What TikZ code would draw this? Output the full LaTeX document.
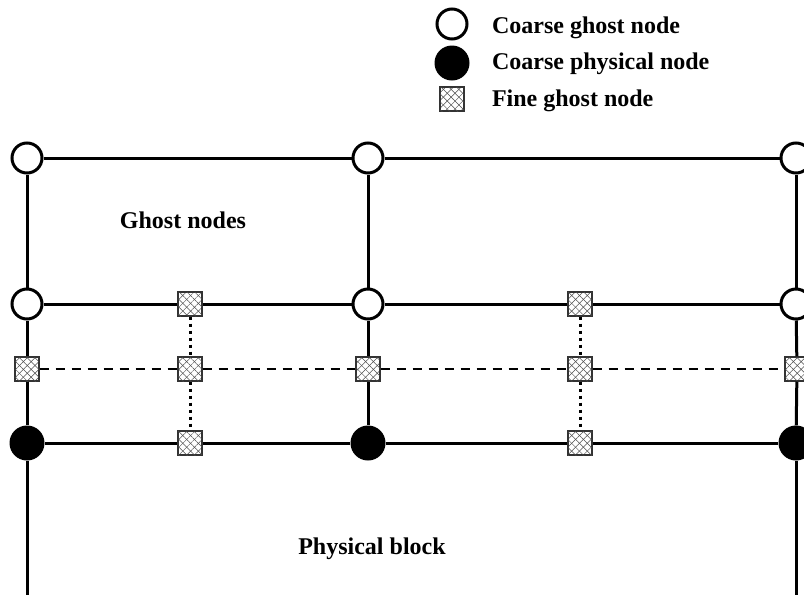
\documentclass[tikz,border=0pt]{standalone}
\usepackage{fontspec}
\setmainfont{Liberation Serif}
\usetikzlibrary{patterns.meta}
\begin{document}
\begin{tikzpicture}[x=1pt,y=-1pt,
  ghost/.style={circle,draw=black,fill=white,line width=3pt,minimum size=30pt,inner sep=0pt},
  phys/.style={circle,fill=black,draw=none,minimum size=35pt,inner sep=0pt},
  fine/.style={rectangle,draw=black!80,line width=1.2pt,fill=white,minimum size=24pt,inner sep=0pt,
    pattern={Lines[angle=45,distance=5.5pt,line width=0.5pt]},pattern color=black!70,
    postaction={pattern={Lines[angle=-45,distance=5.5pt,line width=0.5pt]},pattern color=black!70}},
  grid/.style={line width=3pt},
  dashline/.style={line width=2.6pt,dash pattern=on 9pt off 7pt},
  dotline/.style={line width=3pt,dash pattern=on 3.5pt off 3.5pt},
  lbl/.style={font=\fontsize{24}{28}\selectfont\bfseries}
]
\useasboundingbox (0,0) rectangle (804,595);
% legend
\node[ghost] (lg1) at (452,24) {};
\node[phys] (lg2) at (452,63) {};
\node[fine] (lg3) at (452,99) {};
\node[lbl,anchor=base west] (lt1) at (488.5,33) {Coarse ghost node};
\node[lbl,anchor=base west] (lt2) at (488.5,69.5) {Coarse physical node};
\node[lbl,anchor=base west] (lt3) at (488.5,106) {Fine ghost node};
% coarse nodes
\node[ghost] (g11) at (27,158) {};
\node[ghost] (g12) at (368,158) {};
\node[ghost] (g13) at (796,158) {};
\node[ghost] (g21) at (27,304) {};
\node[ghost] (g22) at (368,304) {};
\node[ghost] (g23) at (796,304) {};
\node[phys] (p1) at (27,443) {};
\node[phys] (p2) at (368,443) {};
\node[phys] (p3) at (796,443) {};
% fine nodes
\node[fine] (fa1) at (190,304) {};
\node[fine] (fa2) at (190,369) {};
\node[fine] (fa3) at (190,443) {};
\node[fine] (fb1) at (580,304) {};
\node[fine] (fb2) at (580,369) {};
\node[fine] (fb3) at (580,443) {};
\node[fine] (fl) at (27,369) {};
\node[fine] (fm) at (368,369) {};
\node[fine] (fr) at (797,369) {};
\coordinate (bl) at (27,595);
\coordinate (br) at (796,595);
% lines
\draw[grid] (g11) -- (g12);
\draw[grid] (g12) -- (g13);
\draw[grid] (g21) -- (fa1);
\draw[grid] (fa1) -- (g22);
\draw[grid] (g22) -- (fb1);
\draw[grid] (fb1) -- (g23);
\draw[grid] (p1) -- (fa3);
\draw[grid] (fa3) -- (p2);
\draw[grid] (p2) -- (fb3);
\draw[grid] (fb3) -- (p3);
\draw[grid] (g11) -- (g21);
\draw[grid] (g21) -- (fl);
\draw[grid] (fl) -- (p1);
\draw[grid] (p1) -- (bl);
\draw[grid] (g12) -- (g22);
\draw[grid] (g22) -- (fm);
\draw[grid] (fm) -- (p2);
\draw[grid] (g13) -- (g23);
\draw[grid] (g23) -- (fr);
\draw[grid] (fr) -- (p3);
\draw[grid] (p3) -- (br);
\draw[dashline] (fl) -- (fa2);
\draw[dashline] (fa2) -- (fm);
\draw[dashline] (fm) -- (fb2);
\draw[dashline] (fb2) -- (fr);
\draw[dotline] (fa1) -- (fa2);
\draw[dotline] (fa2) -- (fa3);
\draw[dotline] (fb1) -- (fb2);
\draw[dotline] (fb2) -- (fb3);
% labels
\node[lbl] (t1) at (183,220) {Ghost nodes};
\node[lbl] (t2) at (372,549) {Physical block};
\end{tikzpicture}
\end{document}
